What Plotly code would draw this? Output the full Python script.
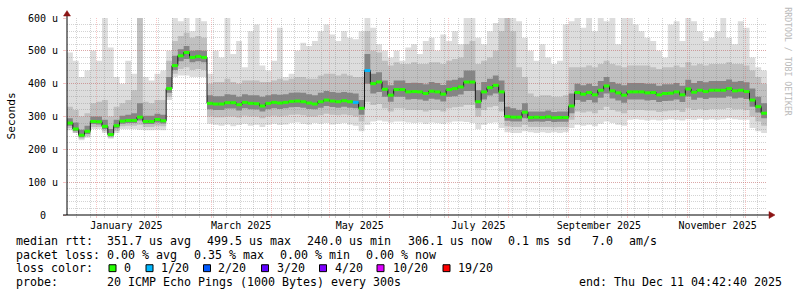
import pandas as pd
import plotly.graph_objects as go

# ---------------- data (values in microseconds, one value per 3-day step) ----------------
med = [280, 262, 243, 255, 285, 284, 270, 245, 272, 286, 288, 288, 298, 285, 285, 291, 287,
       385, 455, 485, 495, 480, 483, 480,
       340, 338, 338, 342, 342, 336, 343, 340, 339, 332, 340, 343, 341, 343, 346, 347, 345, 341,
       338, 345, 350, 347, 345, 348, 345, 343,
       325, 440, 400, 405, 383, 365, 382, 382, 375, 376, 375, 370, 377, 375, 368, 382, 385, 390,
       405, 405, 345, 375, 388, 395, 375,
       300, 298, 298, 313, 297, 298, 297, 299, 296, 297, 297,
       332, 373, 368, 373, 366, 380, 393, 378, 372, 365, 375, 375, 375, 372, 373, 366, 370, 371,
       375, 366, 384, 374, 380, 376, 380, 380, 380, 385, 378, 380, 376, 350, 330, 310]

p_min = [258, 250, 228, 235, 262, 262, 250, 232, 250, 262, 262, 262, 260, 258, 258, 260, 258,
         350, 420, 425, 425, 420, 420, 420,
         278, 275, 272, 276, 270, 274, 278, 272, 275, 268, 275, 278, 274, 276, 280, 282, 278, 276,
         280, 278, 280, 276, 278, 280, 276, 272,
         255, 275, 285, 288, 285, 282, 285, 285, 282, 280, 282, 278, 282, 280, 278, 282, 285, 285,
         283, 280, 262, 275, 280, 282, 265,
         252, 250, 250, 255, 252, 250, 252, 250, 252, 250, 252,
         265, 275, 272, 275, 270, 278, 285, 280, 275, 272, 290, 292, 290, 288, 290, 288, 290, 292,
         290, 288, 292, 290, 293, 290, 292, 290, 292, 295, 292, 290, 290, 265, 255, 250]

lo_mid = [265, 250, 232, 240, 268, 268, 255, 236, 256, 270, 272, 272, 275, 268, 268, 272, 270,
          360, 430, 445, 450, 442, 445, 442,
          300, 298, 298, 300, 300, 297, 302, 300, 300, 295, 300, 302, 300, 302, 305, 306, 304, 300,
          300, 304, 308, 305, 304, 306, 304, 300,
          285, 345, 335, 338, 325, 315, 325, 325, 320, 320, 320, 315, 320, 320, 315, 325, 328, 330,
          335, 335, 300, 320, 328, 332, 315,
          270, 268, 268, 275, 268, 268, 268, 268, 267, 268, 268,
          290, 315, 312, 315, 310, 320, 330, 320, 315, 310, 320, 320, 320, 318, 318, 314, 316, 318,
          320, 314, 325, 320, 323, 320, 323, 323, 323, 326, 322, 323, 320, 300, 285, 272]

lo_core = [272, 255, 237, 247, 277, 276, 262, 240, 264, 278, 280, 280, 288, 277, 277, 282, 279,
           372, 442, 468, 475, 465, 468, 465,
           322, 320, 320, 324, 324, 318, 325, 322, 321, 315, 322, 325, 323, 325, 328, 329, 327, 323,
           322, 327, 332, 329, 327, 330, 327, 325,
           305, 400, 370, 375, 360, 345, 360, 360, 352, 353, 352, 348, 354, 352, 346, 360, 362, 367,
           378, 378, 325, 352, 364, 370, 345,
           287, 285, 285, 295, 284, 285, 284, 286, 283, 284, 284,
           310, 350, 345, 350, 343, 357, 370, 355, 349, 342, 352, 352, 352, 349, 350, 344, 347, 348,
           352, 344, 361, 351, 357, 353, 357, 357, 357, 362, 355, 357, 353, 330, 312, 295]

hi_core = [295, 282, 260, 272, 300, 300, 290, 262, 290, 302, 305, 310, 340, 302, 302, 308, 305,
           420, 485, 505, 515, 500, 502, 500,
           365, 362, 362, 368, 366, 360, 368, 365, 365, 360, 365, 368, 366, 368, 372, 373, 372, 368,
           365, 372, 378, 375, 372, 375, 372, 370,
           350, 490, 430, 435, 410, 395, 410, 410, 402, 403, 402, 398, 405, 402, 396, 410, 412, 418,
           440, 440, 380, 405, 415, 425, 410,
           330, 325, 320, 340, 315, 315, 315, 318, 314, 315, 315,
           370, 400, 395, 400, 393, 408, 420, 405, 400, 395, 402, 402, 402, 400, 400, 394, 398, 398,
           402, 394, 412, 402, 408, 404, 408, 408, 408, 413, 406, 408, 404, 385, 360, 340]

hi_mid = [330, 320, 300, 310, 340, 345, 350, 300, 330, 340, 350, 380, 600, 345, 340, 350, 350,
          470, 530, 545, 555, 540, 545, 540,
          400, 405, 405, 415, 405, 400, 410, 410, 410, 405, 405, 410, 415, 410, 415, 420, 420, 415,
          415, 425, 430, 430, 425, 430, 425, 420,
          420, 560, 500, 495, 470, 455, 465, 460, 460, 465, 460, 460, 465, 465, 460, 470, 475, 480,
          520, 530, 460, 470, 480, 500, 560,
          600, 560, 450, 420, 370, 360, 365, 365, 360, 360, 365,
          450, 450, 450, 455, 450, 460, 470, 460, 455, 450, 455, 455, 455, 455, 450, 445, 450, 450,
          455, 450, 465, 455, 460, 455, 460, 460, 460, 465, 460, 460, 455, 440, 420, 400]

p_max = [495, 470, 420, 440, 500, 470, 600, 510, 420, 400, 470, 430, 600, 420, 410, 430, 440,
         500, 600, 590, 600, 560, 600, 590,
         430, 500, 480, 600, 490, 530, 450, 560, 580, 455, 440, 470, 570, 420, 430, 500, 525, 515,
         530, 560, 580, 550, 530, 560, 540, 535,
         560, 600, 570, 520, 500, 480, 500, 470, 510, 520, 490, 530, 540, 500, 550, 530, 560, 520,
         600, 600, 540, 520, 560, 585, 600,
         600, 600, 590, 540, 500, 470, 520, 480, 460, 470, 580,
         590, 600, 570, 600, 560, 600, 590, 600, 520, 600, 600, 580, 560, 540, 530, 500, 480, 580,
         590, 530, 600, 590, 560, 530, 540, 560, 600, 540, 520, 590, 570, 480, 450, 440]

# lost pings (out of 20) per step
loss = [0] * 49 + [1, 0, 1] + [0] * 68

y_tick_vals = [0, 100, 200, 300, 400, 500, 600]
y_tick_text = ["0\u00a0\u00a0", "100 u", "200 u", "300 u", "400 u", "500 u", "600 u"]
x_label_vals = ["2025-01-16 12:00", "2025-03-16 12:00", "2025-05-16 12:00",
                "2025-07-16 12:00", "2025-09-16 12:00", "2025-11-16 12:00"]
x_label_text = ["January 2025", "March 2025", "May 2025", "July 2025",
                "September 2025", "November 2025"]
month_starts = ["2025-%02d-01" % m for m in range(1, 13)]

loss_levels = [0, 1, 2, 3, 4, 10, 19]
loss_labels = ["0", "1/20", "2/20", "3/20", "4/20", "10/20", "19/20"]
loss_colors = ["#26ff00", "#00b8ff", "#0059ff", "#5e00ff", "#7e00ff", "#dd00ff", "#ff0000"]

# ---------------- geometry ----------------
W, H = 797, 297
ML, MR, MT, MB = 67, 30, 15, 82
PW, PH = W - ML - MR, H - MT - MB

START = pd.Timestamp("2024-12-16 22:00")
STEP = pd.Timedelta(days=3)
END = START + pd.Timedelta(days=360)
n = len(med)
edges = [(START + STEP * i).isoformat() for i in range(n + 1)]


def stair(v):
    return list(v) + [v[-1]]


def px(x):
    return (x - ML) / PW


def py(y):
    return (MT + PH - y) / PH


MONO = "DejaVu Sans Mono"

fig = go.Figure()

# smoke bands (subplot 1)
bands = [(p_min, p_max, "#dddddd"), (lo_mid, hi_mid, "#c0c0c0"), (lo_core, hi_core, "#858585")]
for lo, hi, col in bands:
    fig.add_trace(go.Scatter(x=edges, y=stair(lo), mode="lines", line=dict(width=0, shape="hv"),
                             hoverinfo="skip", showlegend=False, xaxis="x", yaxis="y"))
    fig.add_trace(go.Scatter(x=edges, y=stair(hi), mode="lines", line=dict(width=0, shape="hv"),
                             fill="tonexty", fillcolor=col, hoverinfo="skip", showlegend=False,
                             xaxis="x", yaxis="y"))

# median (subplot 2, drawn above its grid)
fig.add_trace(go.Scatter(x=edges, y=stair(med), mode="lines",
                         line=dict(color="#151515", width=1, shape="hv"),
                         hoverinfo="skip", showlegend=False, xaxis="x2", yaxis="y2"))
for lvl, col in zip(loss_levels, loss_colors):
    xs, ys = [], []
    for i in range(n):
        if loss[i] == lvl:
            xs += [edges[i], edges[i + 1], None]
            ys += [med[i], med[i], None]
    if xs:
        fig.add_trace(go.Scatter(x=xs, y=ys, mode="lines", line=dict(color=col, width=3),
                                 hoverinfo="skip", showlegend=False, xaxis="x2", yaxis="y2"))

RED_GRID = "rgba(235,90,90,0.35)"
GRAY_GRID = "rgba(120,120,120,0.33)"
DOT = "1px,1px"

layout = dict(
    width=W, height=H, autosize=False,
    margin=dict(l=ML, r=MR, t=MT, b=MB, pad=0),
    paper_bgcolor="#ffffff", plot_bgcolor="rgba(0,0,0,0)",
    showlegend=False, hovermode=False,
    xaxis=dict(domain=[0, 1], anchor="y", type="date", range=[START, END],
               showgrid=False, zeroline=False, showline=False, ticks="",
               tickmode="array", tickvals=x_label_vals, ticktext=x_label_text,
               tickfont=dict(family=MONO, size=10, color="#000000"), ticklabelstandoff=3),
    yaxis=dict(domain=[0, 1], anchor="x", range=[0, 600], visible=False),
    xaxis2=dict(domain=[0, 1], anchor="y2", type="date", range=[START, END],
                showgrid=True, gridcolor=RED_GRID, griddash=DOT, gridwidth=1,
                zeroline=False, showline=False, showticklabels=False,
                tickmode="array", tickvals=month_starts, ticks="outside", ticklen=2,
                tickcolor=RED_GRID,
                minor=dict(tick0="2025-01-05", dtick=7 * 86400000, showgrid=True,
                           gridcolor=GRAY_GRID, griddash=DOT, gridwidth=1,
                           ticks="outside", ticklen=2, tickcolor=GRAY_GRID)),
    yaxis2=dict(domain=[0, 1], anchor="x2", range=[0, 600],
                showgrid=True, gridcolor=RED_GRID, griddash=DOT, gridwidth=1,
                zeroline=False, showline=False,
                tickmode="array", tickvals=y_tick_vals, ticktext=y_tick_text,
                ticks="outside", ticklen=3, tickcolor=RED_GRID,
                tickfont=dict(family=MONO, size=10, color="#000000"), ticklabelstandoff=3,
                minor=dict(dtick=20, showgrid=True, gridcolor=GRAY_GRID, griddash=DOT,
                           gridwidth=1)),
)
fig.update_layout(**layout)

shapes = []
# axes lines with arrows
shapes.append(dict(type="line", xref="paper", yref="paper", x0=px(ML), x1=px(ML),
                   y0=py(MT + PH), y1=py(11), line=dict(color="#000000", width=1), layer="above"))
shapes.append(dict(type="line", xref="paper", yref="paper", x0=px(63), x1=px(770),
                   y0=py(MT + PH), y1=py(MT + PH), line=dict(color="#000000", width=1),
                   layer="above"))
ARROW = "#8c1414"
shapes.append(dict(type="path", xref="paper", yref="paper", layer="above",
                   path="M %f,%f L %f,%f L %f,%f Z" % (px(ML), py(7.5), px(ML - 3.5), py(13),
                                                       px(ML + 3.5), py(13)),
                   fillcolor=ARROW, line=dict(color=ARROW, width=0.5)))
shapes.append(dict(type="path", xref="paper", yref="paper", layer="above",
                   path="M %f,%f L %f,%f L %f,%f Z" % (px(775), py(MT + PH), px(769), py(MT + PH - 3.5),
                                                       px(769), py(MT + PH + 3.5)),
                   fillcolor=ARROW, line=dict(color=ARROW, width=0.5)))

annotations = []


def ann(text, x, y, size=11.63, xanchor="left", yanchor="middle", color="#000000", angle=0):
    annotations.append(dict(text=text.replace(" ", "\u00a0"), x=px(x), y=py(y), xref="paper",
                            yref="paper", showarrow=False, xanchor=xanchor, yanchor=yanchor,
                            textangle=angle, borderpad=0,
                            font=dict(family=MONO, size=size, color=color)))


ann("Seconds", 11, 115, size=11.2, xanchor="center", angle=-90)
ann("RRDTOOL / TOBI OETIKER", 788, 59, size=8.2, xanchor="center", color="#b9b9b9", angle=90)

R1, R2, R3, R4 = 241.5, 255.3, 269.3, 283.3
row1 = [("median rtt:", 15.3), ("351.7 us avg", 106.3), ("499.5 us max", 206.3),
        ("240.0 us min", 306.3), ("306.1 us now", 406.6), ("0.1 ms sd", 506.6),
        ("7.0", 591.0), ("am/s", 627.6)]
row2 = [("packet loss:", 15.3), ("0.00 % avg", 106.3), ("0.35 % max", 192.6),
        ("0.00 % min", 278.6), ("0.00 % now", 365.0)]
row4 = [("probe:", 15.3), ("20 ICMP Echo Pings (1000 Bytes) every 300s", 106.3),
        ("end: Thu Dec 11 04:42:40 2025", 577.6)]
for t, x in row1:
    ann(t, x, R1)
for t, x in row2:
    ann(t, x, R2)
for t, x in row4:
    ann(t, x, R4)
ann("loss color:", 15.3, R3)

box_x = [109, 146, 203.5, 261.5, 319.5, 377, 443]
lab_x = [123.3, 159.6, 217.0, 275.6, 333.6, 391.6, 456.6]
for bx, lx, lab, col in zip(box_x, lab_x, loss_labels, loss_colors):
    shapes.append(dict(type="rect", xref="paper", yref="paper", x0=px(bx), x1=px(bx + 7),
                       y0=py(265.5), y1=py(272.5), fillcolor=col,
                       line=dict(color="#000000", width=1), layer="above"))
    ann(lab, lx, R3)

fig.update_layout(shapes=shapes, annotations=annotations)
fig.write_html("out.html")
